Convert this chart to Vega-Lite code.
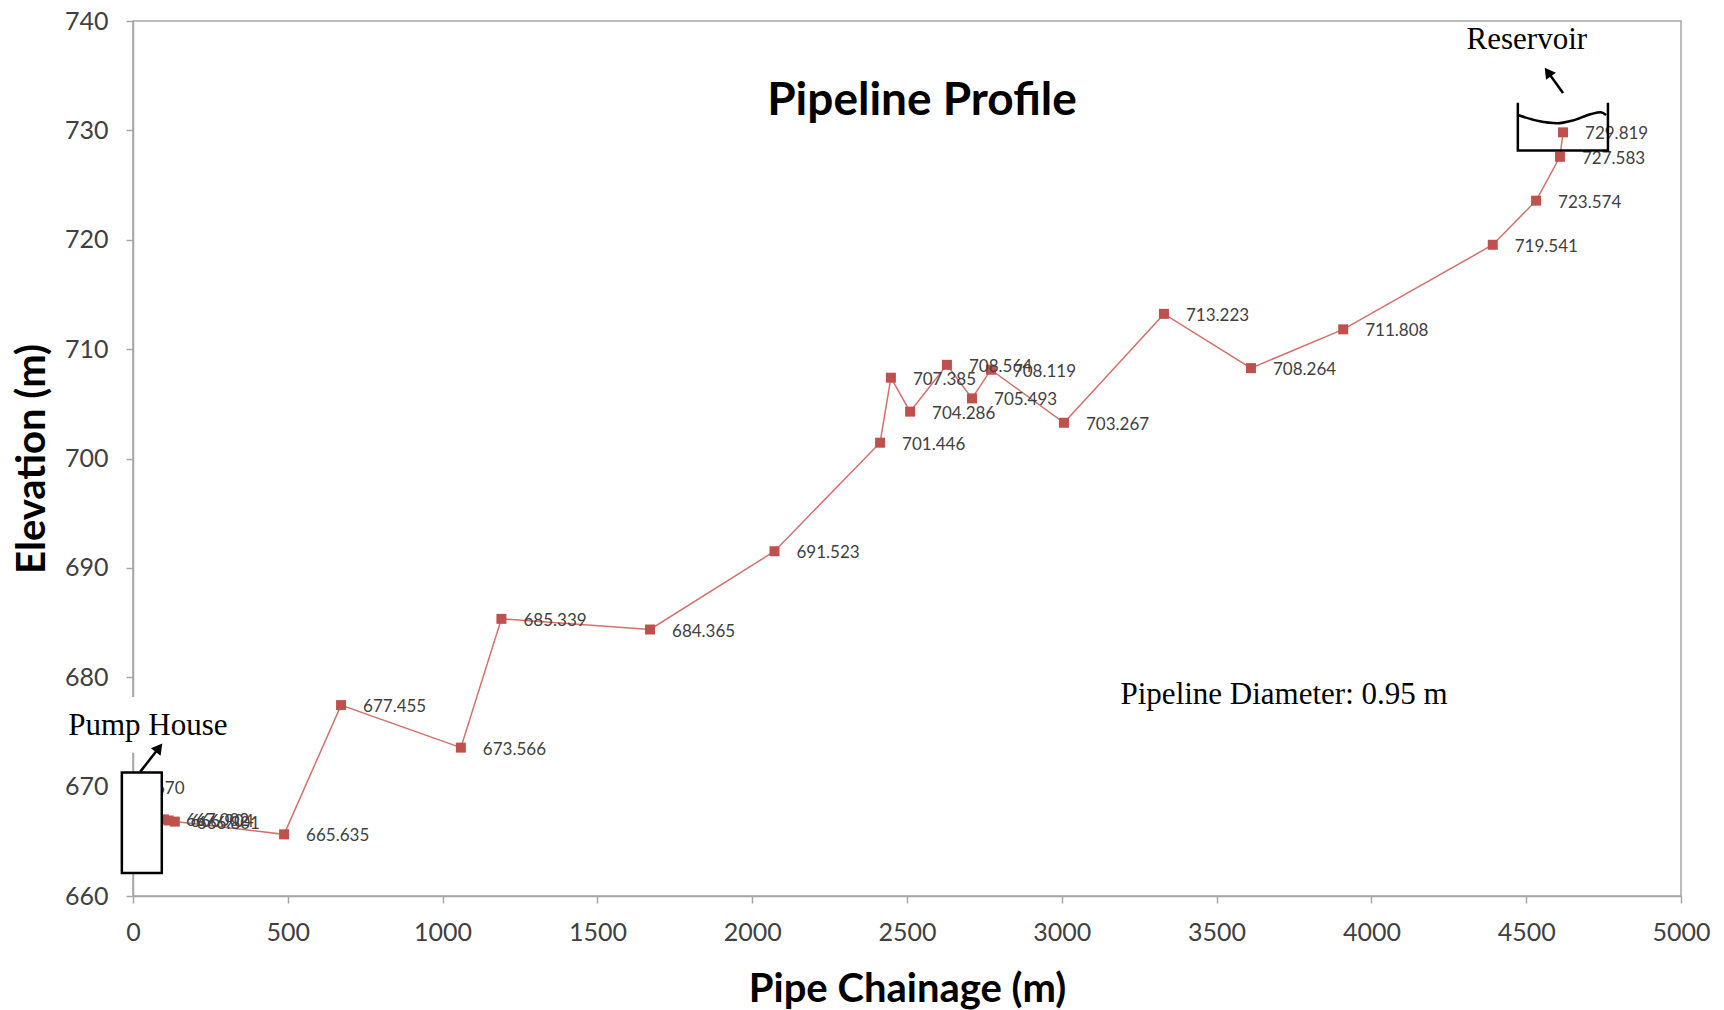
{
  "$schema": "https://vega.github.io/schema/vega-lite/v6.json",
  "width": 1548,
  "height": 875,
  "autosize": {"type": "none"},
  "padding": {"left": 133, "top": 21, "right": 43, "bottom": 114},
  "background": "white",
  "title": {
    "text": "Pipeline Profile",
    "font": "Lato",
    "fontSize": 46,
    "fontWeight": "bold",
    "color": "#000000",
    "anchor": "middle",
    "frame": "group",
    "baseline": "middle",
    "offset": -138,
    "dx": 15
  },
  "config": {
    "view": {"stroke": "#a6a6a6", "strokeWidth": 1.5},
    "axis": {
      "grid": false,
      "domainColor": "#a6a6a6",
      "domainWidth": 1.5,
      "tickColor": "#a6a6a6",
      "tickWidth": 1.5,
      "tickSize": 7,
      "labelFont": "Lato",
      "labelFontSize": 25,
      "labelColor": "#404040",
      "labelFlush": false,
      "titleFont": "Lato",
      "titleFontSize": 40,
      "titleFontWeight": "bold",
      "titleColor": "#000000"
    }
  },
  "datasets": {
    "profile": [
      {"chainage": 0, "elevation": 670, "label": "670"},
      {"chainage": 100, "elevation": 667.002, "label": "667.002"},
      {"chainage": 115, "elevation": 666.904, "label": "666.904"},
      {"chainage": 135, "elevation": 666.801, "label": "666.801"},
      {"chainage": 488, "elevation": 665.635, "label": "665.635"},
      {"chainage": 672, "elevation": 677.455, "label": "677.455"},
      {"chainage": 1059, "elevation": 673.566, "label": "673.566"},
      {"chainage": 1190, "elevation": 685.339, "label": "685.339"},
      {"chainage": 1670, "elevation": 684.365, "label": "684.365"},
      {"chainage": 2072, "elevation": 691.523, "label": "691.523"},
      {"chainage": 2413, "elevation": 701.446, "label": "701.446"},
      {"chainage": 2448, "elevation": 707.385, "label": "707.385"},
      {"chainage": 2510, "elevation": 704.286, "label": "704.286"},
      {"chainage": 2629, "elevation": 708.564, "label": "708.564"},
      {"chainage": 2710, "elevation": 705.493, "label": "705.493"},
      {"chainage": 2771, "elevation": 708.119, "label": "708.119"},
      {"chainage": 3007, "elevation": 703.267, "label": "703.267"},
      {"chainage": 3330, "elevation": 713.223, "label": "713.223"},
      {"chainage": 3611, "elevation": 708.264, "label": "708.264"},
      {"chainage": 3909, "elevation": 711.808, "label": "711.808"},
      {"chainage": 4392, "elevation": 719.541, "label": "719.541"},
      {"chainage": 4532, "elevation": 723.574, "label": "723.574"},
      {"chainage": 4609, "elevation": 727.583, "label": "727.583"},
      {"chainage": 4619, "elevation": 729.819, "label": "729.819"}
    ],
    "textBack": [
      {"chainage": -216, "chainage_end": 310, "elevation": 673.1, "elevation_end": 678.2}
    ],
    "pumpHouse": [
      {"chainage": -36, "chainage_end": 93, "elevation": 662.1, "elevation_end": 671.3}
    ],
    "pumpArrow": [
      {"chainage": 23, "elevation": 671.35, "chainage_end": 84, "elevation_end": 673.55}
    ],
    "reservoirArrow": [
      {"chainage": 4619, "elevation": 733.42, "chainage_end": 4570, "elevation_end": 735.34}
    ],
    "tank": [
      {"chainage": 4473, "elevation": 732.53, "seq": 1},
      {"chainage": 4473, "elevation": 728.15, "seq": 2},
      {"chainage": 4764, "elevation": 728.15, "seq": 3},
      {"chainage": 4764, "elevation": 732.53, "seq": 4}
    ],
    "water": [
      {"chainage": 4473, "elevation": 731.41},
      {"chainage": 4540, "elevation": 730.85},
      {"chainage": 4600, "elevation": 730.65},
      {"chainage": 4650, "elevation": 730.9},
      {"chainage": 4710, "elevation": 731.5},
      {"chainage": 4740, "elevation": 731.65},
      {"chainage": 4758, "elevation": 731.4}
    ],
    "notes": [
      {"chainage": 48, "elevation": 675.5, "note": "Pump House"},
      {"chainage": 4502, "elevation": 738.3, "note": "Reservoir"},
      {"chainage": 3718, "elevation": 678.4, "note": "Pipeline Diameter: 0.95 m"}
    ]
  },
  "layer": [
    {
      "data": {"name": "profile"},
      "mark": {"type": "line", "color": "#d46f6c", "strokeWidth": 1.5},
      "encoding": {
        "x": {
          "field": "chainage",
          "type": "quantitative",
          "scale": {"domain": [0, 5000], "nice": false, "zero": false},
          "axis": {
            "title": "Pipe Chainage (m)",
            "values": [0, 500, 1000, 1500, 2000, 2500, 3000, 3500, 4000, 4500, 5000],
            "format": "d",
            "labelPadding": 17,
            "titlePadding": 24
          }
        },
        "y": {
          "field": "elevation",
          "type": "quantitative",
          "scale": {"domain": [660, 740], "nice": false, "zero": false},
          "axis": {
            "title": "Elevation (m)",
            "values": [660, 670, 680, 690, 700, 710, 720, 730, 740],
            "format": "d",
            "labelPadding": 18,
            "titlePadding": 12
          }
        }
      }
    },
    {
      "data": {"name": "profile"},
      "mark": {"type": "point", "shape": "square", "filled": true, "size": 100, "color": "#c0504d", "opacity": 1},
      "encoding": {
        "x": {"field": "chainage", "type": "quantitative"},
        "y": {"field": "elevation", "type": "quantitative"}
      }
    },
    {
      "data": {"name": "profile"},
      "mark": {"type": "text", "align": "left", "baseline": "middle", "dx": 22, "dy": 2, "font": "Lato", "fontSize": 17, "color": "#404040"},
      "encoding": {
        "x": {"field": "chainage", "type": "quantitative"},
        "y": {"field": "elevation", "type": "quantitative"},
        "text": {"field": "label", "type": "nominal"}
      }
    },
    {
      "data": {"name": "textBack"},
      "mark": {"type": "rect", "fill": "white", "strokeWidth": 0},
      "encoding": {
        "x": {"field": "chainage", "type": "quantitative"},
        "x2": {"field": "chainage_end"},
        "y": {"field": "elevation", "type": "quantitative"},
        "y2": {"field": "elevation_end"}
      }
    },
    {
      "data": {"name": "pumpHouse"},
      "mark": {"type": "rect", "fill": "white", "stroke": "black", "strokeWidth": 2.5},
      "encoding": {
        "x": {"field": "chainage", "type": "quantitative"},
        "x2": {"field": "chainage_end"},
        "y": {"field": "elevation", "type": "quantitative"},
        "y2": {"field": "elevation_end"}
      }
    },
    {
      "data": {"name": "pumpArrow"},
      "mark": {"type": "rule", "color": "black", "strokeWidth": 2.5},
      "encoding": {
        "x": {"field": "chainage", "type": "quantitative"},
        "x2": {"field": "chainage_end"},
        "y": {"field": "elevation", "type": "quantitative"},
        "y2": {"field": "elevation_end"}
      }
    },
    {
      "data": {"name": "pumpArrow"},
      "mark": {"type": "point", "shape": "triangle-up", "filled": true, "color": "black", "opacity": 1, "size": 150, "angle": 38},
      "encoding": {
        "x": {"field": "chainage_end", "type": "quantitative"},
        "y": {"field": "elevation_end", "type": "quantitative"}
      }
    },
    {
      "data": {"name": "reservoirArrow"},
      "mark": {"type": "rule", "color": "black", "strokeWidth": 2.5},
      "encoding": {
        "x": {"field": "chainage", "type": "quantitative"},
        "x2": {"field": "chainage_end"},
        "y": {"field": "elevation", "type": "quantitative"},
        "y2": {"field": "elevation_end"}
      }
    },
    {
      "data": {"name": "reservoirArrow"},
      "mark": {"type": "point", "shape": "triangle-up", "filled": true, "color": "black", "opacity": 1, "size": 150, "angle": -36},
      "encoding": {
        "x": {"field": "chainage_end", "type": "quantitative"},
        "y": {"field": "elevation_end", "type": "quantitative"}
      }
    },
    {
      "data": {"name": "tank"},
      "mark": {"type": "line", "color": "black", "strokeWidth": 2.5},
      "encoding": {
        "x": {"field": "chainage", "type": "quantitative"},
        "y": {"field": "elevation", "type": "quantitative"},
        "order": {"field": "seq", "type": "quantitative"}
      }
    },
    {
      "data": {"name": "water"},
      "mark": {"type": "line", "color": "black", "strokeWidth": 2.5, "interpolate": "monotone"},
      "encoding": {
        "x": {"field": "chainage", "type": "quantitative"},
        "y": {"field": "elevation", "type": "quantitative"}
      }
    },
    {
      "data": {"name": "notes"},
      "mark": {"type": "text", "align": "center", "baseline": "middle", "font": "Liberation Serif", "fontSize": 31, "color": "black"},
      "encoding": {
        "x": {"field": "chainage", "type": "quantitative"},
        "y": {"field": "elevation", "type": "quantitative"},
        "text": {"field": "note", "type": "nominal"}
      }
    }
  ]
}
